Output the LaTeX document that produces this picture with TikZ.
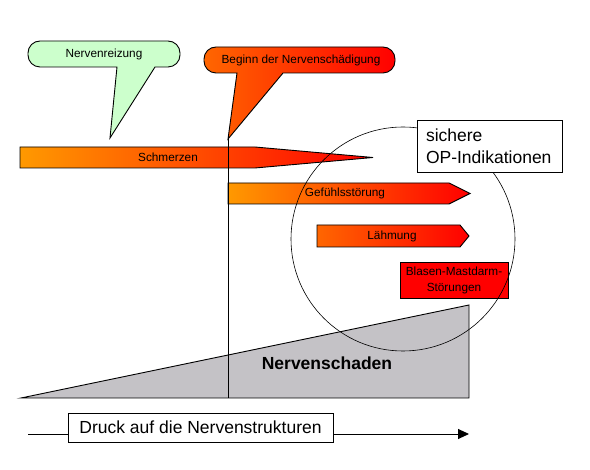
\documentclass[tikz,border=0pt]{standalone}
\usepackage{fontspec}
\setmainfont{Liberation Sans}
\usepackage{tikz}
\usetikzlibrary{arrows.meta,calc}

\definecolor{nrvgreen}{RGB}{204,255,204}
\definecolor{nrvorange}{RGB}{255,153,0}
\definecolor{nrvdark}{RGB}{255,102,0}
\definecolor{nrvred}{RGB}{255,0,0}
\definecolor{nrvgray}{RGB}{196,194,198}

\begin{document}
\begin{tikzpicture}[x=1pt,y=-1pt,
  small/.style={font=\fontsize{11.8}{16}\selectfont},
  big/.style={font=\fontsize{17.5}{22}\selectfont},
  outline/.style={draw=black,line width=0.9pt},
  grad/.style={outline,left color=#1,right color=nrvred}]
  \useasboundingbox[fill=white] (0,0) rectangle (590,470);
  \coordinate (onset) at (228,139);
  \coordinate (onsetfoot) at (228,398);
  \coordinate (ring) at (403,239);
  \coordinate (pstart) at (28,434);
  \coordinate (pend) at (469,434);

  % symptom bars
  \path[grad=nrvorange] (20,147) -- (255,147) -- (373,157.5) -- (255,168) -- (20,168) -- cycle;
  \node[small] (schmerz) at (168,157) {Schmerzen};
  \path[grad=nrvorange] (228,183) -- (449,183) -- (470,193.5) -- (449,204) -- (228,204) -- cycle;
  \node[small] (gefuehl) at (345,193) {Gefühlsstörung};
  \path[grad=nrvdark] (317,225) -- (460,225) -- (469,236) -- (460,247) -- (317,247) -- cycle;
  \node[small] (laehm) at (392,236) {Lähmung};
  \node[small,outline,fill=nrvred,minimum width=108,minimum height=36,inner sep=0,align=center]
    (blase) at (454,280) {Blasen-Mastdarm-\\Störungen};

  % damage wedge
  \path[outline,fill=nrvgray] (21,398) -- (469,305) -- (469,398) -- cycle;
  \node[font=\fontsize{17.5}{22}\selectfont\bfseries] (schaden) at (327,363) {Nervenschaden};
  \draw[line width=0.9pt] (onset) -- (onsetfoot);

  % OP range
  \draw[line width=0.6pt] (ring) circle[radius=112];
  \node[big,outline,fill=white,minimum width=145,minimum height=51,text width=127,inner sep=9,align=left]
    (op) at (489.5,146.5) {sichere\\OP-Indikationen};

  % callouts
  \path[outline,fill=nrvgreen] (117,67) -- (110,138) -- (155,67)
    {[rounded corners=12pt] -- (180,67) -- (180,41) -- (28,41) -- (28,67)} -- cycle;
  \node[small] (reiz) at (104,54) {Nervenreizung};
  \path[outline,left color=nrvdark,right color=nrvred] (237,73) -- (onset) -- (283,73)
    {[rounded corners=12pt] -- (395,73) -- (395,47) -- (204,47) -- (204,73)} -- cycle;
  \node[small] (beginn) at (301,60) {Beginn der Nervenschädigung};

  % pressure axis
  \draw[line width=0.9pt,-{Triangle[length=11pt,width=10pt]}] (pstart) -- (pend);
  \node[big,outline,fill=white,minimum width=265,minimum height=29,inner sep=0]
    (druck) at (200.5,427.5) {Druck auf die Nervenstrukturen};
\end{tikzpicture}
\end{document}
